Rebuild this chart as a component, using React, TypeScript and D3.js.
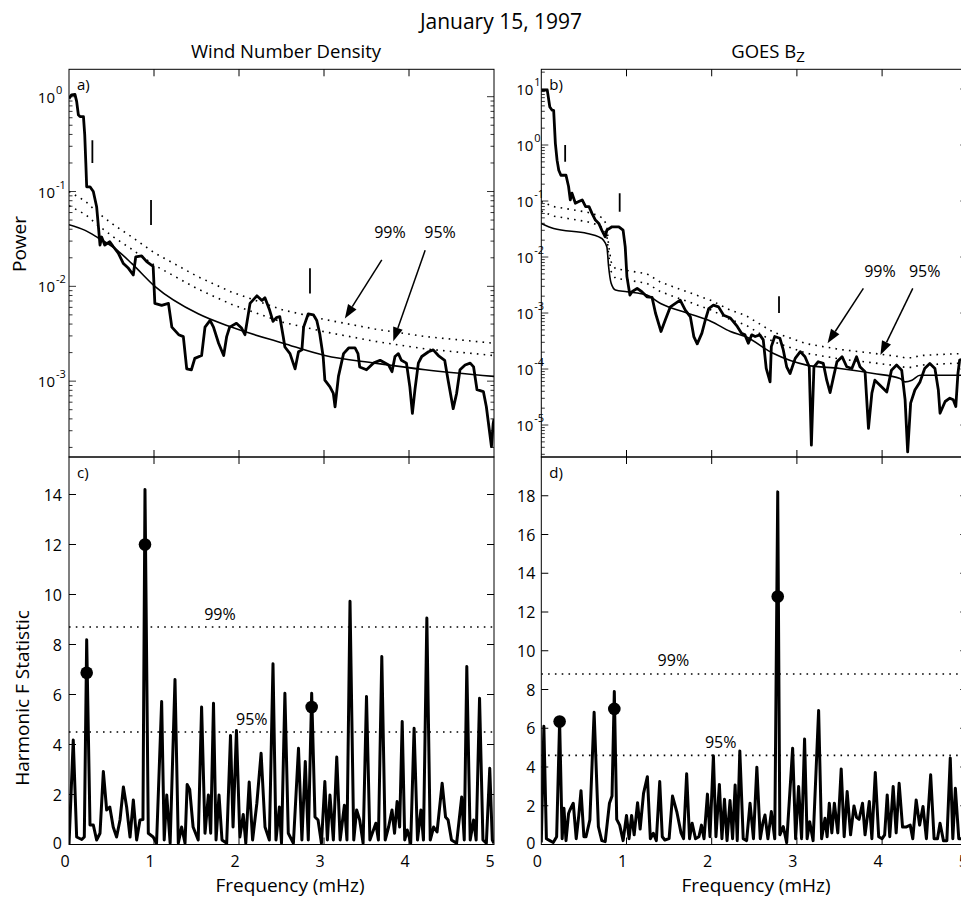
import React, { useEffect, useRef } from 'react'
import * as d3 from 'd3'

const W = 961
const H = 898
const FONT = "'Open Sans', 'DejaVu Sans', sans-serif"

const freqTicks = [0, 1, 2, 3, 4, 5]
const fStatTicksC = [0, 2, 4, 6, 8, 10, 12, 14]
const fStatTicksD = [0, 2, 4, 6, 8, 10, 12, 14, 16, 18]

// a) Wind number density spectrum, [mHz, log10 power]
const densitySpectrum = [
  [0, -0.02], [0.03, 0.02], [0.07, 0.025], [0.09, -0.05], [0.11, -0.19], [0.13, -0.21], [0.17, -0.21],
  [0.185, -0.4], [0.198, -0.7], [0.208, -0.95], [0.247, -0.95], [0.286, -1.0], [0.325, -1.16], [0.345, -1.36],
  [0.365, -1.565], [0.384, -1.48], [0.42, -1.565], [0.48, -1.53], [0.52, -1.58], [0.58, -1.65], [0.64, -1.76],
  [0.7, -1.81], [0.756, -1.88], [0.785, -1.69], [0.855, -1.68], [0.914, -1.74], [0.99, -1.79], [1.01, -2.18],
  [1.09, -2.2], [1.17, -2.18], [1.21, -2.43], [1.29, -2.51], [1.345, -2.53], [1.385, -2.87], [1.44, -2.88],
  [1.48, -2.76], [1.56, -2.73], [1.6, -2.43], [1.66, -2.36], [1.7, -2.43], [1.76, -2.6], [1.82, -2.73],
  [1.855, -2.53], [1.89, -2.43], [1.97, -2.39], [2.03, -2.44], [2.07, -2.51], [2.13, -2.18], [2.21, -2.1],
  [2.27, -2.15], [2.305, -2.12], [2.36, -2.25], [2.4, -2.37], [2.44, -2.33], [2.48, -2.32], [2.52, -2.53],
  [2.54, -2.64], [2.6, -2.71], [2.66, -2.87], [2.7, -2.69], [2.74, -2.67], [2.76, -2.43], [2.815, -2.29],
  [2.875, -2.3], [2.915, -2.36], [2.95, -2.5], [2.99, -2.74], [3.01, -2.99], [3.07, -3.06], [3.11, -3.13],
  [3.13, -3.27], [3.17, -2.95], [3.23, -2.71], [3.29, -2.65], [3.365, -2.65], [3.4, -2.71], [3.42, -2.85],
  [3.5, -2.88], [3.58, -2.81], [3.66, -2.78], [3.76, -2.83], [3.8, -2.9], [3.835, -2.74], [3.875, -2.71],
  [3.91, -2.78], [3.97, -2.81], [4.01, -3.06], [4.04, -3.34], [4.07, -3.09], [4.11, -2.81], [4.15, -2.74],
  [4.23, -2.69], [4.285, -2.67], [4.345, -2.73], [4.42, -2.78], [4.46, -2.99], [4.52, -3.29], [4.56, -3.13],
  [4.6, -2.88], [4.66, -2.83], [4.72, -2.81], [4.76, -2.85], [4.8, -3.09], [4.875, -3.11], [4.91, -3.27],
  [4.95, -3.55], [4.97, -3.69], [4.99, -3.45], [5.0, -3.4],
]
// background fit and confidence levels (log10 power)
const densityBgFreq = [0, 0.19, 0.345, 0.54, 0.74, 1.01, 1.52, 1.91, 2.52, 3.01, 3.6, 4.19, 5.0]
const densityBg = [-1.35, -1.41, -1.49, -1.6, -1.76, -2.0, -2.29, -2.43, -2.6, -2.73, -2.81, -2.88, -2.95]
const density99 = [-1.0, -1.1, -1.23, -1.36, -1.48, -1.65, -1.9, -2.06, -2.25, -2.35, -2.45, -2.53, -2.6]
const density95 = [-1.15, -1.24, -1.36, -1.49, -1.61, -1.78, -2.03, -2.19, -2.38, -2.48, -2.58, -2.66, -2.73]
// bars over the significant lines: [mHz, low, high] (log10)
const densityMarks = [[0.275, -0.7, -0.46], [0.965, -1.354, -1.09], [2.835, -2.075, -1.81]]

// b) GOES Bz spectrum, [mHz, log10 power]
const bzSpectrum = [
  [0, 0.98], [0.07, 0.98], [0.1, 0.68], [0.125, 0.625], [0.145, 0.62], [0.165, 0.03], [0.185, -0.27],
  [0.205, -0.45], [0.23, -0.54], [0.29, -0.54], [0.32, -0.74], [0.34, -0.98], [0.36, -0.86], [0.4, -1.04],
  [0.44, -1.01], [0.48, -0.98], [0.52, -1.1], [0.56, -1.1], [0.595, -1.22], [0.635, -1.34], [0.675, -1.4],
  [0.71, -1.52], [0.75, -1.64], [0.77, -1.52], [0.83, -1.46], [0.91, -1.46], [0.96, -1.52], [0.985, -1.82],
  [1.005, -2.35], [1.04, -2.68], [1.065, -2.62], [1.125, -2.56], [1.18, -2.62], [1.24, -2.71], [1.3, -2.72],
  [1.34, -3.0], [1.405, -3.33], [1.455, -3.125], [1.515, -2.89], [1.63, -2.77], [1.69, -2.95], [1.75, -3.07],
  [1.79, -3.42], [1.83, -3.55], [1.885, -3.36], [1.925, -3.125], [1.965, -2.92], [2.02, -2.86], [2.08, -2.89],
  [2.14, -3.04], [2.22, -3.09], [2.3, -3.24], [2.35, -3.36], [2.39, -3.39], [2.43, -3.54], [2.47, -3.39],
  [2.51, -3.42], [2.565, -3.39], [2.605, -3.48], [2.64, -3.99], [2.685, -4.23], [2.7, -3.6], [2.74, -3.42],
  [2.8, -3.45], [2.84, -3.66], [2.88, -3.96], [2.92, -4.08], [2.98, -3.81], [3.04, -3.69], [3.095, -3.78],
  [3.145, -3.96], [3.17, -5.36], [3.2, -3.96], [3.25, -3.87], [3.31, -3.9], [3.35, -4.2], [3.39, -4.42],
  [3.43, -4.14], [3.47, -3.87], [3.53, -3.78], [3.585, -3.96], [3.645, -3.99], [3.7, -3.78], [3.74, -3.96],
  [3.8, -4.05], [3.84, -5.06], [3.88, -4.43], [3.915, -4.2], [3.975, -4.29], [4.055, -4.41], [4.11, -4.02],
  [4.17, -3.93], [4.23, -4.02], [4.27, -4.55], [4.3, -5.48], [4.335, -4.61], [4.385, -4.375], [4.445, -4.23],
  [4.5, -3.99], [4.56, -3.9], [4.62, -3.99], [4.66, -4.375], [4.68, -4.79], [4.74, -4.58], [4.795, -4.52],
  [4.835, -4.55], [4.865, -4.67], [4.89, -4.08], [4.91, -3.84], [5.0, -3.8],
]
const bzBgFreq = [0, 0.145, 0.54, 0.675, 0.73, 0.77, 0.79, 0.82, 0.87, 1.005, 1.24, 1.4, 1.71, 2.0, 2.22,
  2.395, 2.72, 3.115, 3.505, 3.9, 4.21, 4.27, 4.35, 4.445, 4.68, 5.0]
const bzBg = [-1.4, -1.49, -1.58, -1.64, -1.7, -1.82, -2.17, -2.47, -2.59, -2.62, -2.68, -2.83, -3.0, -3.155,
  -3.33, -3.42, -3.72, -3.93, -3.99, -4.08, -4.17, -4.23, -4.2, -4.11, -4.11, -4.11]
const bz99 = [-1.01, -1.1, -1.2, -1.26, -1.32, -1.44, -1.79, -2.09, -2.21, -2.24, -2.3, -2.45, -2.62, -2.78,
  -2.95, -3.04, -3.34, -3.55, -3.65, -3.72, -3.78, -3.8, -3.8, -3.76, -3.74, -3.72]
const bz95 = [-1.18, -1.27, -1.37, -1.43, -1.49, -1.61, -1.96, -2.26, -2.38, -2.41, -2.47, -2.62, -2.79, -2.95,
  -3.12, -3.21, -3.51, -3.72, -3.82, -3.89, -3.95, -3.97, -3.97, -3.93, -3.91, -3.89]
const bzMarks = [[0.28, -0.3, 0.0], [0.92, -1.19, -0.86], [2.79, -3.0, -2.7]]

// c) harmonic F statistic, Wind density, [mHz, F]
const densityFStat = [
  [0, 0], [0.05, 4.18], [0.09, 0.3], [0.15, 0.2], [0.18, 0.3], [0.208, 8.19], [0.247, 0.78], [0.286, 0.78],
  [0.325, 0.18], [0.365, 0.45], [0.404, 2.92], [0.443, 1.38], [0.48, 1.5], [0.52, 0.7], [0.56, 0.3], [0.6, 0.98],
  [0.64, 2.3], [0.678, 1.5], [0.718, 0.3], [0.757, 1.78], [0.796, 0.18], [0.835, 0.98], [0.87, 1.0], [0.894, 14.2],
  [0.933, 0.45], [0.99, 0.3], [1.03, 0.05], [1.09, 5.72], [1.12, 0.18], [1.15, 1.98], [1.19, 0.05], [1.247, 6.6],
  [1.286, 0.05], [1.325, 0.7], [1.365, 0.05], [1.39, 2.4], [1.42, 2.2], [1.46, 0.7], [1.52, 0.18], [1.56, 5.5],
  [1.6, 0.45], [1.64, 1.98], [1.667, 0.45], [1.7, 5.65], [1.73, 0.18], [1.765, 1.98], [1.8, 0.18], [1.855, 0.05],
  [1.9, 4.36], [1.93, 0.7], [1.97, 4.56], [2.01, 0.3], [2.05, 1.2], [2.08, 0.05], [2.12, 2.5], [2.16, 0.18],
  [2.21, 1.65], [2.26, 3.65], [2.306, 0.7], [2.357, 0.18], [2.4, 7.23], [2.435, 0.18], [2.475, 1.5], [2.5, 0.05],
  [2.54, 6.05], [2.58, 0.45], [2.64, 0.05], [2.7, 3.85], [2.74, 0.18], [2.78, 3.32], [2.815, 0.18], [2.855, 6.05],
  [2.894, 1.1], [2.93, 0.98], [2.97, 0.05], [3.01, 2.52], [3.04, 0.18], [3.07, 1.98], [3.11, 0.18], [3.15, 3.5],
  [3.19, 0.18], [3.24, 1.57], [3.27, 0.18], [3.306, 9.73], [3.35, 0.18], [3.384, 1.38], [3.42, 0.98], [3.46, 0.05],
  [3.5, 5.92], [3.54, 0.18], [3.61, 0.85], [3.64, 0.18], [3.68, 7.52], [3.72, 0.18], [3.76, 0.7], [3.8, 1.38],
  [3.83, 0.45], [3.86, 1.72], [3.89, 0.7], [3.92, 4.92], [3.95, 0.18], [3.98, 0.58], [4.02, 0.05], [4.06, 4.65],
  [4.1, 0.18], [4.14, 1.38], [4.17, 0.18], [4.21, 9.06], [4.25, 0.18], [4.29, 0.7], [4.33, 0.5], [4.39, 2.45],
  [4.43, 1.1], [4.46, 0.98], [4.5, 0.18], [4.56, 0.05], [4.62, 1.9], [4.65, 0.18], [4.68, 7.12], [4.72, 0.18],
  [4.76, 0.98], [4.79, 0.18], [4.83, 5.85], [4.87, 0.18], [4.91, 0.05], [4.95, 3.05], [4.98, 0.18], [5.0, 0.05],
]
const densityFDots = [[0.208, 6.87], [0.894, 12.0], [2.855, 5.5]]
const densityFLevels = { p99: 8.7, p95: 4.5 }

// d) harmonic F statistic, GOES Bz, [mHz, F]
const bzFStat = [
  [0, 0.1], [0.03, 6.1], [0.06, 0.3], [0.1, 0.2], [0.14, 0.1], [0.18, 0.4], [0.215, 6.35], [0.245, 0.3],
  [0.266, 1.87], [0.29, 0.2], [0.32, 1.6], [0.336, 1.78], [0.375, 2.13], [0.41, 0.3], [0.44, 1.5], [0.466, 2.78],
  [0.5, 0.4], [0.525, 0.4], [0.57, 1.27], [0.62, 6.82], [0.67, 0.92], [0.71, 0.2], [0.75, 0.15], [0.8, 2.13],
  [0.83, 2.5], [0.857, 7.9], [0.885, 1.3], [0.92, 1.0], [0.96, 0.2], [1.0, 1.5], [1.03, 0.3], [1.06, 1.5],
  [1.09, 0.5], [1.13, 2.16], [1.16, 0.8], [1.2, 2.64], [1.245, 3.5], [1.28, 0.3], [1.315, 0.58], [1.35, 0.2],
  [1.39, 3.25], [1.42, 0.4], [1.45, 0.23], [1.5, 0.3], [1.54, 2.5], [1.59, 1.7], [1.64, 0.6], [1.67, 0.3],
  [1.706, 3.65], [1.74, 0.3], [1.77, 1.1], [1.81, 0.3], [1.85, 0.4], [1.88, 1.0], [1.91, 0.3], [1.95, 2.6],
  [1.98, 0.4], [2.02, 4.58], [2.05, 0.4], [2.09, 3.1], [2.12, 0.3], [2.15, 2.33], [2.18, 0.2], [2.215, 2.27],
  [2.245, 0.3], [2.275, 3.07], [2.3, 0.2], [2.33, 4.83], [2.37, 0.3], [2.41, 0.2], [2.45, 2.13], [2.49, 0.3],
  [2.53, 3.99], [2.57, 0.3], [2.6, 1.1], [2.625, 1.52], [2.66, 0.3], [2.7, 1.7], [2.74, 0.3], [2.775, 18.2],
  [2.8, 0.5], [2.84, 0.92], [2.88, 0.1], [2.95, 4.97], [2.985, 0.3], [3.02, 2.99], [3.055, 0.3], [3.09, 5.44],
  [3.12, 0.3], [3.15, 1.18], [3.19, 0.2], [3.255, 6.92], [3.29, 0.3], [3.33, 1.35], [3.355, 0.4], [3.38, 2.13],
  [3.41, 0.6], [3.44, 2.13], [3.48, 0.6], [3.52, 3.9], [3.555, 0.4], [3.59, 2.73], [3.63, 0.5], [3.67, 1.99],
  [3.7, 1.4], [3.73, 1.3], [3.77, 2.13], [3.8, 0.5], [3.85, 2.22], [3.88, 0.3], [3.92, 3.71], [3.96, 0.4],
  [4.0, 0.3], [4.03, 0.5], [4.06, 2.56], [4.09, 0.4], [4.13, 2.99], [4.165, 0.6], [4.2, 3.16], [4.24, 0.9],
  [4.28, 0.9], [4.33, 1.0], [4.36, 0.3], [4.4, 2.3], [4.44, 1.0], [4.48, 1.96], [4.52, 0.3], [4.57, 3.6],
  [4.61, 0.3], [4.65, 0.3], [4.68, 1.1], [4.72, 0.2], [4.76, 0.2], [4.8, 4.46], [4.83, 0.3], [4.86, 2.9],
  [4.9, 0.3], [5.0, 0.3],
]
const bzFDots = [[0.215, 6.35], [0.857, 7.0], [2.775, 12.8]]
const bzFLevels = { p99: 8.8, p95: 4.6 }

// annotations: arrows [tailF, tailLog, headF, headLog] and label spots
const densityArrows = [[3.68, -1.72, 3.245, -2.34], [4.19, -1.62, 3.815, -2.58]]
const densityArrowText = [['99%', 3.776, -1.49], ['95%', 4.365, -1.49]]
const bzArrows = [[3.78, -2.56, 3.36, -3.54], [4.36, -2.56, 3.98, -3.75]]
const bzArrowText = [['99%', 3.975, -2.36], ['95%', 4.5, -2.36]]
const densityLevelText = [['99%', 1.776, 9.0], ['95%', 2.15, 4.8]]
const bzLevelText = [['99%', 1.55, 9.23], ['95%', 2.105, 4.99]]

const p10 = (v) => Math.pow(10, v)

function drawChart(node) {
  const svg = d3.select(node)
  svg.selectAll('*').remove()
  svg.append('rect').attr('width', W).attr('height', H).attr('fill', '#fff')
  const defs = svg.append('defs')

  const xL = d3.scaleLinear().domain([0, 5]).range([69, 494])
  const xR = d3.scaleLinear().domain([0, 5]).range([541.3, 967.3])
  const yA = d3.scaleLog().domain([p10(-3.8), p10(0.289)]).range([457, 69.3])
  const yB = d3.scaleLog().domain([p10(-5.571), p10(1.352)]).range([457, 69.3])
  const yC = d3.scaleLinear().domain([0, 15.5]).range([844.5, 457])
  const yD = d3.scaleLinear().domain([0, 20]).range([844.5, 457])

  const clip = (id, x, y) => {
    defs.append('clipPath').attr('id', id).append('rect')
      .attr('x', x.range()[0]).attr('y', y.range()[1])
      .attr('width', x.range()[1] - x.range()[0]).attr('height', y.range()[0] - y.range()[1])
    return 'url(#' + id + ')'
  }

  const frame = (x, y) => {
    svg.append('rect')
      .attr('x', x.range()[0]).attr('y', y.range()[1])
      .attr('width', x.range()[1] - x.range()[0]).attr('height', y.range()[0] - y.range()[1])
      .attr('fill', 'none').attr('stroke', '#000').attr('stroke-width', 1)
  }

  const xTicks = (x, y, labels) => {
    const top = y.range()[1], bot = y.range()[0]
    freqTicks.forEach((t) => {
      const px = x(t)
      if (t > 0 && t < 5) {
        svg.append('line').attr('x1', px).attr('x2', px).attr('y1', top).attr('y2', top + 7).attr('stroke', '#000')
        svg.append('line').attr('x1', px).attr('x2', px).attr('y1', bot).attr('y2', bot - 7).attr('stroke', '#000')
      }
      if (labels) {
        svg.append('text').attr('x', px - 4).attr('y', 867).attr('text-anchor', 'middle')
          .style('font-family', FONT).style('font-size', '16px').text(t)
      }
    })
  }

  const logYTicks = (x, y, gap) => {
    const [lo, hi] = y.domain()
    const l = x.range()[0], r = x.range()[1]
    for (let k = Math.floor(Math.log10(lo)); k <= Math.ceil(Math.log10(hi)); k++) {
      for (let m = 1; m <= 9; m++) {
        const v = m * p10(k)
        if (v < lo || v > hi) continue
        const len = m === 1 ? 7 : 3.5
        const py = y(v)
        svg.append('line').attr('x1', l).attr('x2', l + len).attr('y1', py).attr('y2', py).attr('stroke', '#000').attr('stroke-width', 0.8)
        svg.append('line').attr('x1', r).attr('x2', r - len).attr('y1', py).attr('y2', py).attr('stroke', '#000').attr('stroke-width', 0.8)
        if (m === 1) {
          svg.append('text').attr('x', l - gap).attr('y', py + 6).attr('text-anchor', 'end')
            .style('font-family', FONT).style('font-size', '15px').text('10')
          svg.append('text').attr('x', l - gap + 1).attr('y', py - 3).attr('text-anchor', 'start')
            .style('font-family', FONT).style('font-size', '11px').text(String(k))
        }
      }
    }
  }

  const linYTicks = (x, y, ticks, gap) => {
    const l = x.range()[0], r = x.range()[1]
    ticks.forEach((t) => {
      const py = y(t)
      if (t > 0) {
        svg.append('line').attr('x1', l).attr('x2', l + 7).attr('y1', py).attr('y2', py).attr('stroke', '#000')
        svg.append('line').attr('x1', r).attr('x2', r - 7).attr('y1', py).attr('y2', py).attr('stroke', '#000')
      }
      svg.append('text').attr('x', l - gap).attr('y', py + (t === 0 ? 4 : 6)).attr('text-anchor', 'end')
        .style('font-family', FONT).style('font-size', '16px').text(t)
    })
  }

  const dotted = (g, line, data) => {
    g.append('path').datum(data).attr('d', line).attr('fill', 'none')
      .attr('stroke', '#000').attr('stroke-width', 1.6).attr('stroke-dasharray', '1.6 5.2')
  }

  const arrow = (g, x1, y1, x2, y2) => {
    const dx = x2 - x1, dy = y2 - y1
    const len = Math.sqrt(dx * dx + dy * dy)
    const ux = dx / len, uy = dy / len
    const bx = x2 - ux * 14, by = y2 - uy * 14
    g.append('line').attr('x1', x1).attr('y1', y1).attr('x2', bx).attr('y2', by)
      .attr('stroke', '#000').attr('stroke-width', 1.5)
    g.append('path')
      .attr('d', 'M' + x2 + ',' + y2 + 'L' + (bx - uy * 5) + ',' + (by + ux * 5) + 'L' + (bx + uy * 5) + ',' + (by - ux * 5) + 'Z')
      .attr('fill', '#000')
  }

  const label = (x, y, txt, size) => svg.append('text').attr('x', x).attr('y', y)
    .style('font-family', FONT).style('font-size', size + 'px').text(txt)

  // spectrum panels
  const spectrumPanel = (x, y, id, spectrum, bgFreq, bg, c99, c95, marks, arrows, arrowText, tag, gap) => {
    const g = svg.append('g').attr('clip-path', clip(id, x, y))
    const line = d3.line().x((d) => x(d[0])).y((d) => y(p10(d[1])))
    dotted(g, line, bgFreq.map((f, i) => [f, c99[i]]))
    dotted(g, line, bgFreq.map((f, i) => [f, c95[i]]))
    g.append('path').datum(bgFreq.map((f, i) => [f, bg[i]]))
      .attr('d', line.curve(d3.curveMonotoneX)).attr('fill', 'none').attr('stroke', '#000').attr('stroke-width', 1.6)
    line.curve(d3.curveLinear)
    g.append('path').datum(spectrum).attr('d', line).attr('fill', 'none')
      .attr('stroke', '#000').attr('stroke-width', 2.8).attr('stroke-linejoin', 'round')
    marks.forEach((m) => {
      g.append('line').attr('x1', x(m[0])).attr('x2', x(m[0])).attr('y1', y(p10(m[1]))).attr('y2', y(p10(m[2])))
        .attr('stroke', '#000').attr('stroke-width', 1.8)
    })
    arrows.forEach((a) => arrow(g, x(a[0]), y(p10(a[1])), x(a[2]), y(p10(a[3]))))
    arrowText.forEach((t) => {
      g.append('text').attr('x', x(t[1])).attr('y', y(p10(t[2]))).attr('text-anchor', 'middle')
        .style('font-family', FONT).style('font-size', '16px').text(t[0])
    })
    frame(x, y)
    xTicks(x, y, false)
    logYTicks(x, y, gap)
    label(x.range()[0] + 8, 90, tag, 15)
  }

  const fStatPanel = (x, y, id, series, dots, levels, levelText, ticks, tag, gap) => {
    const g = svg.append('g').attr('clip-path', clip(id, x, y))
    const line = d3.line().x((d) => x(d[0])).y((d) => y(d[1]))
    ;[levels.p99, levels.p95].forEach((v) => dotted(g, line, [[0, v], [5, v]]))
    levelText.forEach((t) => {
      g.append('text').attr('x', x(t[1])).attr('y', y(t[2])).attr('text-anchor', 'middle')
        .style('font-family', FONT).style('font-size', '16px').text(t[0])
    })
    g.append('path').datum(series).attr('d', line).attr('fill', 'none')
      .attr('stroke', '#000').attr('stroke-width', 3).attr('stroke-linejoin', 'round')
    g.selectAll('circle.dot').data(dots).enter().append('circle')
      .attr('cx', (d) => x(d[0])).attr('cy', (d) => y(d[1])).attr('r', 6.3).attr('fill', '#000')
    frame(x, y)
    xTicks(x, y, true)
    linYTicks(x, y, ticks, gap)
    label(x.range()[0] + 8, 478, tag, 15)
  }

  spectrumPanel(xL, yA, 'clipA', densitySpectrum, densityBgFreq, densityBg, density99, density95,
    densityMarks, densityArrows, densityArrowText, 'a)', 14)
  spectrumPanel(xR, yB, 'clipB', bzSpectrum, bzBgFreq, bzBg, bz99, bz95,
    bzMarks, bzArrows, bzArrowText, 'b)', 8)
  fStatPanel(xL, yC, 'clipC', densityFStat, densityFDots, densityFLevels, densityLevelText, fStatTicksC, 'c)', 7)
  fStatPanel(xR, yD, 'clipD', bzFStat, bzFDots, bzFLevels, bzLevelText, fStatTicksD, 'd)', 6)

  // titles and axis labels
  svg.append('text').attr('x', 501).attr('y', 29).attr('text-anchor', 'middle')
    .style('font-family', FONT).style('font-size', '21px').text('January 15, 1997')
  svg.append('text').attr('x', 286).attr('y', 58).attr('text-anchor', 'middle')
    .style('font-family', FONT).style('font-size', '18.5px').text('Wind Number Density')
  const goes = svg.append('text').attr('x', 768).attr('y', 58).attr('text-anchor', 'middle')
    .style('font-family', FONT).style('font-size', '18.5px')
  goes.append('tspan').text('GOES B')
  goes.append('tspan').attr('dy', 4).style('font-size', '15px').text('Z')

  svg.append('text').attr('transform', 'translate(26,244) rotate(-90)').attr('text-anchor', 'middle')
    .style('font-family', FONT).style('font-size', '19px').text('Power')
  svg.append('text').attr('transform', 'translate(29,698) rotate(-90)').attr('text-anchor', 'middle')
    .style('font-family', FONT).style('font-size', '19px').text('Harmonic F Statistic')
  svg.append('text').attr('x', 290).attr('y', 892).attr('text-anchor', 'middle')
    .style('font-family', FONT).style('font-size', '19px').text('Frequency (mHz)')
  svg.append('text').attr('x', 756).attr('y', 892).attr('text-anchor', 'middle')
    .style('font-family', FONT).style('font-size', '19px').text('Frequency (mHz)')
}

export default function App() {
  const ref = useRef(null)
  useEffect(() => {
    document.body.style.margin = '0'
    drawChart(ref.current)
  }, [])
  return <svg ref={ref} width={W} height={H} style={{ display: 'block' }} />
}
